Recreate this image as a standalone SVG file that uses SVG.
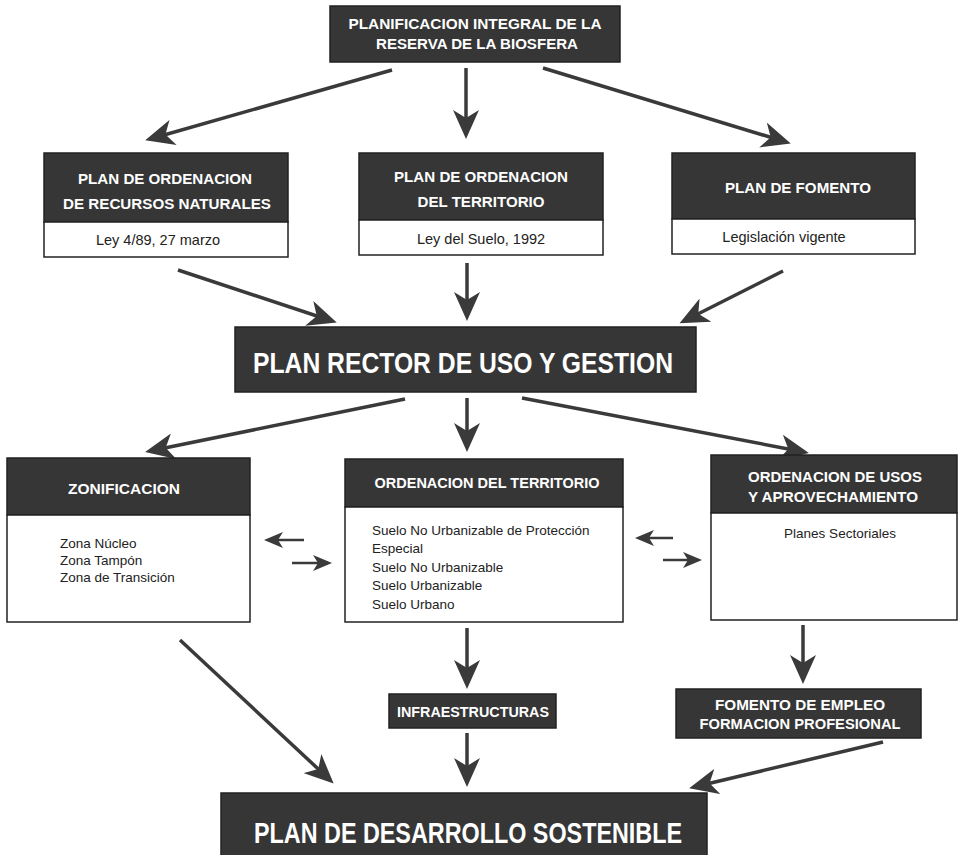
<svg xmlns="http://www.w3.org/2000/svg" width="958" height="855" viewBox="0 0 958 855">
<defs>
<style>
.dk{fill:#363636;stroke:#222;stroke-width:1.5}
.wt{fill:#fff;stroke:#222;stroke-width:1.5}
.tt{font-family:"Liberation Sans",Arial,sans-serif;font-weight:bold;fill:#fff;text-anchor:middle}
.t13{font-size:14px}
.big{font-size:30px}
.bd{font-family:"Liberation Sans",Arial,sans-serif;font-size:13.5px;fill:#222}
.sub{font-size:14.5px}
.mid{text-anchor:middle}
.ar{stroke:#3a3a3a;stroke-width:3.5;fill:none;marker-end:url(#h)}
.sa{stroke:#3a3a3a;stroke-width:2.4;fill:none;marker-end:url(#hs)}
</style>
<marker id="h" markerUnits="userSpaceOnUse" markerWidth="30" markerHeight="26" viewBox="0 0 30 26" refX="24" refY="13" orient="auto">
<path d="M0,0 L29,13 L0,26 L8,13 z" fill="#3a3a3a"/>
</marker>
<marker id="hs" markerUnits="userSpaceOnUse" markerWidth="20" markerHeight="16" viewBox="0 0 20 16" refX="15" refY="8" orient="auto">
<path d="M0,0 L19,8 L0,16 L5,8 z" fill="#3a3a3a"/>
</marker>
</defs>

<g id="connectors">
<line class="ar" x1="392" y1="70" x2="150" y2="139"/>
<line class="ar" x1="466" y1="68" x2="466" y2="134"/>
<line class="ar" x1="543" y1="68" x2="786" y2="142"/>
<line class="ar" x1="178" y1="270" x2="332" y2="321"/>
<line class="ar" x1="467" y1="263" x2="467" y2="316"/>
<line class="ar" x1="783" y1="271" x2="684" y2="321"/>
<line class="ar" x1="405" y1="399" x2="150" y2="451"/>
<line class="ar" x1="467" y1="398" x2="467" y2="447"/>
<line class="ar" x1="522" y1="398" x2="804" y2="452"/>
<line class="ar" x1="180" y1="640" x2="330" y2="780"/>
<line class="ar" x1="467" y1="628" x2="467" y2="684"/>
<line class="ar" x1="467" y1="733" x2="467" y2="782"/>
<line class="ar" x1="803" y1="625" x2="803" y2="679"/>
<line class="ar" x1="883" y1="742" x2="694" y2="787"/>
<line class="sa" x1="304" y1="540" x2="268" y2="540"/>
<line class="sa" x1="292" y1="563" x2="328" y2="563"/>
<line class="sa" x1="673" y1="538" x2="639" y2="538"/>
<line class="sa" x1="663" y1="560" x2="698" y2="560"/>
</g>

<g id="n-top">
<rect class="dk" x="330" y="6" width="290" height="56"/>
<text class="tt t13" x="475" y="29" textLength="253" lengthAdjust="spacingAndGlyphs">PLANIFICACION INTEGRAL DE LA</text>
<text class="tt t13" x="477" y="49" textLength="202" lengthAdjust="spacingAndGlyphs">RESERVA DE LA BIOSFERA</text>
</g>

<g id="n-porn">
<rect class="dk" x="44" y="153" width="244" height="69"/>
<rect class="wt" x="44" y="222" width="244" height="35"/>
<text class="tt t13" x="165" y="184" textLength="174" lengthAdjust="spacingAndGlyphs">PLAN DE ORDENACION</text>
<text class="tt t13" x="167" y="209" textLength="208" lengthAdjust="spacingAndGlyphs">DE RECURSOS NATURALES</text>
<text class="bd sub mid" x="158" y="245">Ley 4/89, 27 marzo</text>
</g>

<g id="n-pot">
<rect class="dk" x="359" y="153" width="244" height="67"/>
<rect class="wt" x="359" y="220" width="244" height="35"/>
<text class="tt t13" x="481" y="182" textLength="174" lengthAdjust="spacingAndGlyphs">PLAN DE ORDENACION</text>
<text class="tt t13" x="481" y="207" textLength="127" lengthAdjust="spacingAndGlyphs">DEL TERRITORIO</text>
<text class="bd sub mid" x="481" y="244">Ley del Suelo, 1992</text>
</g>

<g id="n-pf">
<rect class="dk" x="672" y="153" width="243" height="66"/>
<rect class="wt" x="672" y="219" width="243" height="35"/>
<text class="tt t13" x="798" y="193" textLength="146" lengthAdjust="spacingAndGlyphs">PLAN DE FOMENTO</text>
<text class="bd sub mid" x="784" y="242">Legislación vigente</text>
</g>

<g id="n-rector">
<rect class="dk" x="235" y="327" width="461" height="65"/>
<text class="tt big" x="463" y="373" textLength="420" lengthAdjust="spacingAndGlyphs">PLAN RECTOR DE USO Y GESTION</text>
</g>

<g id="n-zon">
<rect class="dk" x="7" y="458" width="243" height="57"/>
<rect class="wt" x="7" y="515" width="243" height="107"/>
<text class="tt t13" x="124" y="494" textLength="112" lengthAdjust="spacingAndGlyphs">ZONIFICACION</text>
<text class="bd" x="60" y="548">Zona Núcleo</text>
<text class="bd" x="60" y="565">Zona Tampón</text>
<text class="bd" x="60" y="582">Zona de Transición</text>
</g>

<g id="n-ot">
<rect class="dk" x="345" y="459" width="278" height="48"/>
<rect class="wt" x="345" y="507" width="278" height="115"/>
<text class="tt t13" x="487" y="488" textLength="225" lengthAdjust="spacingAndGlyphs">ORDENACION DEL TERRITORIO</text>
<text class="bd" x="372" y="535">Suelo No Urbanizable de Protección</text>
<text class="bd" x="372" y="553">Especial</text>
<text class="bd" x="372" y="572">Suelo No Urbanizable</text>
<text class="bd" x="372" y="590">Suelo Urbanizable</text>
<text class="bd" x="372" y="609">Suelo Urbano</text>
</g>

<g id="n-ou">
<rect class="dk" x="711" y="455" width="246" height="58"/>
<rect class="wt" x="711" y="513" width="246" height="107"/>
<text class="tt t13" x="835" y="482" textLength="174" lengthAdjust="spacingAndGlyphs">ORDENACION DE USOS</text>
<text class="tt t13" x="833" y="502" textLength="170" lengthAdjust="spacingAndGlyphs">Y APROVECHAMIENTO</text>
<text class="bd mid" x="840" y="538">Planes Sectoriales</text>
</g>

<g id="n-infra">
<rect class="dk" x="389" y="694" width="167" height="34"/>
<text class="tt t13" x="473" y="717" textLength="152" lengthAdjust="spacingAndGlyphs">INFRAESTRUCTURAS</text>
</g>

<g id="n-fomento">
<rect class="dk" x="676" y="689" width="245" height="49"/>
<text class="tt t13" x="800" y="710" textLength="170" lengthAdjust="spacingAndGlyphs">FOMENTO DE EMPLEO</text>
<text class="tt t13" x="800" y="729" textLength="201" lengthAdjust="spacingAndGlyphs">FORMACION PROFESIONAL</text>
</g>

<g id="n-sost">
<rect class="dk" x="221" y="793" width="486" height="66"/>
<text class="tt big" x="468" y="843" textLength="428" lengthAdjust="spacingAndGlyphs">PLAN DE DESARROLLO SOSTENIBLE</text>
</g>
</svg>
